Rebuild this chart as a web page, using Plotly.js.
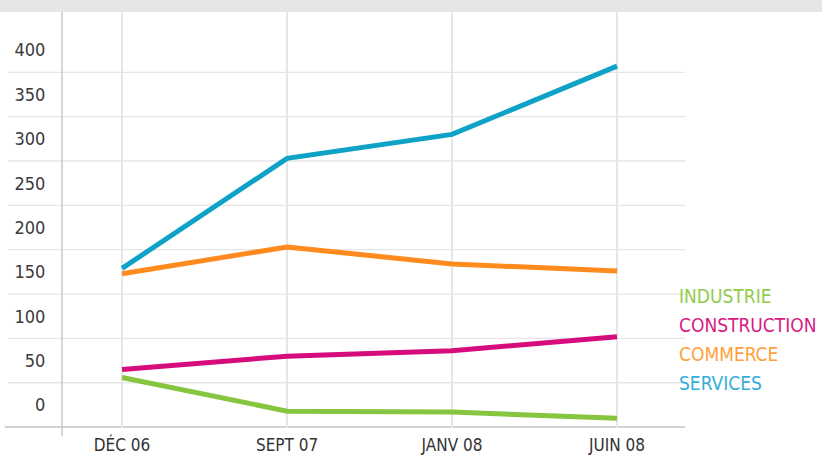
<!DOCTYPE html>
<html><head><meta charset="utf-8">
<script src="https://cdn.plot.ly/plotly-3.0.1.min.js"></script>
<style>html,body{margin:0;padding:0;background:#fff}#c{width:822px;height:455px}</style>
</head><body><div id="c"></div>
<script>
const categories = ['DÉC 06', 'SEPT 07', 'JANV 08', 'JUIN 08'];
const seriesNames = ['INDUSTRIE', 'CONSTRUCTION', 'COMMERCE', 'SERVICES'];
const industrie = [31, -7, -8, -15];
const construction = [40, 55, 61, 77];
const commerce = [148, 178, 159, 151];
const services = [154, 278, 305, 382];
const yTicks = [0, 50, 100, 150, 200, 250, 300, 350, 400];
const gridVals = [-25, 25, 75, 125, 175, 225, 275, 325, 375];

const lineColors = ['#86c540', '#d60c7d', '#ff8a1e', '#0ea2c6'];
const textColors = ['#8fcc4a', '#d81b83', '#ffa03c', '#36addb'];
const seriesData = [industrie, construction, commerce, services];
const FONT = '"Liberation Sans Narrow", "DejaVu Sans Condensed", "Roboto", sans-serif';

const traces = seriesData.map((d, i) => ({
  x: categories, y: d, type: 'scatter', mode: 'lines', name: seriesNames[i],
  line: {color: lineColors[i], width: 5}, hoverinfo: 'skip'
}));

const shapes = [];
shapes.push({type:'rect', xref:'paper', yref:'paper', x0:-0.2, x1:1.3, y0:1, y1:1.05, fillcolor:'#e6e6e6', line:{width:0}, layer:'below'});
gridVals.forEach(v => {
  shapes.push({type:'line', xref:'paper', yref:'y', x0: v === -25 ? -0.092 : -0.0867, x1:1, y0:v, y1:v,
    line:{color: v === -25 ? '#d2d2d2' : '#e6e6e6', width: v === -25 ? 2 : 1.3}, layer:'below'});
});
shapes.push({type:'line', xref:'paper', yref:'paper', x0:0, x1:0, y0:-8/416, y1:1, line:{color:'#c8c8c8', width:1.5}, layer:'below'});

const annotations = seriesNames.map((n, i) => ({
  xref:'paper', yref:'paper', x: 1 - 8/623, y: (428 - (296 + 29*i)) / 416,
  xanchor:'left', yanchor:'middle', showarrow:false, text:n,
  font:{family: FONT, size: 19, color: textColors[i]}
}));

const layout = {
  width: 822, height: 455,
  margin: {l: 62, r: 137, t: 12, b: 27},
  paper_bgcolor: '#fff', plot_bgcolor: 'rgba(0,0,0,0)',
  showlegend: false,
  xaxis: {type:'category', range:[-0.364, 3.412], showgrid:true, gridcolor:'#e6e6e6', gridwidth:1.3,
    zeroline:false, showline:false, ticks:'outside', ticklen:2, tickcolor:'rgba(0,0,0,0)',
    tickfont:{family: FONT, size: 17, color:'#333'}, fixedrange:true},
  yaxis: {range:[-26, 443], tickvals: yTicks, ticktext: yTicks.map(String), showgrid:false, zeroline:false,
    showline:false, ticks:'outside', ticklen:12, tickcolor:'rgba(0,0,0,0)',
    tickfont:{family: FONT, size: 18, color:'#3a3a3a'}, fixedrange:true},
  shapes: shapes,
  annotations: annotations
};
Plotly.newPlot('c', traces, layout, {displayModeBar:false, staticPlot:true});
</script></body></html>
